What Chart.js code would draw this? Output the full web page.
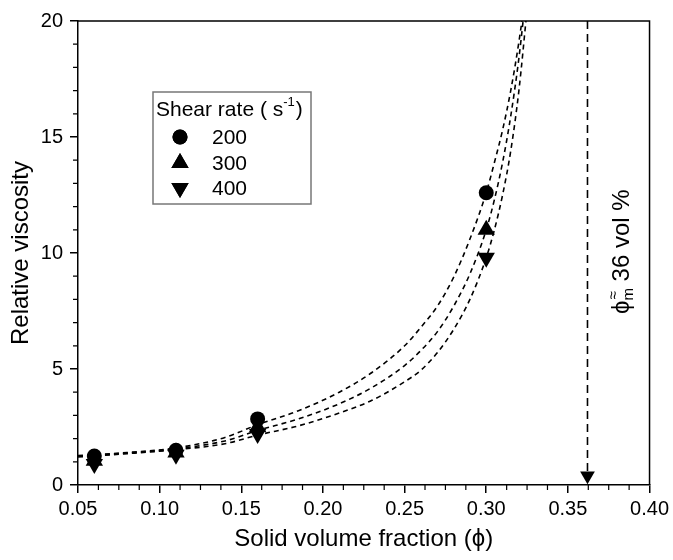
<!DOCTYPE html>
<html>
<head>
<meta charset="utf-8">
<script src="https://cdn.jsdelivr.net/npm/chart.js"></script>
<style>
  html, body { margin: 0; padding: 0; background: #fff; }
</style>
</head>
<body>
<canvas id="viscChart" width="673" height="560"></canvas>
<script>
// measured points
var phi = [0.06, 0.11, 0.16, 0.30];
var eta200 = [1.25, 1.5, 2.85, 12.6];
var eta300 = [1.05, 1.4, 2.5, 11.0];
var eta400 = [0.9, 1.3, 2.2, 9.8];
var shearRates = ['200', '300', '400'];

// fitted curves (dashed)
var fitPhi = [0.05, 0.08, 0.11, 0.14, 0.16, 0.185, 0.21, 0.23, 0.25, 0.26, 0.27, 0.28, 0.29, 0.30, 0.305, 0.31, 0.315, 0.32, 0.325];
var fit200 = [1.27, 1.40, 1.60, 2.05, 2.60, 3.20, 4.00, 4.85, 6.00, 6.80, 7.70, 8.95, 10.6, 12.6, 13.9, 15.3, 17.0, 19.1, 21.6];
var fit300 = [1.24, 1.37, 1.56, 1.90, 2.35, 2.85, 3.50, 4.20, 5.15, 5.80, 6.60, 7.70, 9.10, 11.0, 12.3, 13.9, 15.9, 18.4, 21.6];
var fit400 = [1.21, 1.35, 1.52, 1.78, 2.15, 2.55, 3.10, 3.65, 4.45, 4.95, 5.70, 6.70, 8.00, 9.80, 11.0, 12.5, 14.4, 17.0, 20.5];

// maximum packing fraction arrow
var phiMax = 0.362;
var arrowEta = [20, 0.4];

var xTicks = [0.05, 0.10, 0.15, 0.20, 0.25, 0.30, 0.35, 0.40];
var yTicks = [0, 5, 10, 15, 20];

var FONT = "'Liberation Sans', Arial, sans-serif";
var PHI = '\u03D5';
Chart.defaults.font.family = FONT;
Chart.defaults.color = '#000';

function pts(xs, ys) {
    return xs.map(function (x, i) { return { x: x, y: ys[i] }; });
}

function markerSet(label, ys, style, radius, rotation) {
    return {
        label: label,
        data: pts(phi, ys),
        showLine: false,
        pointStyle: style,
        pointRadius: radius,
        pointRotation: rotation,
        backgroundColor: '#000',
        borderColor: '#000',
        borderWidth: 0,
        order: 0
    };
}

function fitSet(ys) {
    return {
        label: 'fit',
        data: pts(fitPhi, ys),
        showLine: true,
        pointRadius: 0,
        borderColor: '#000',
        borderWidth: 1.6,
        borderDash: [5, 4],
        cubicInterpolationMode: 'monotone',
        fill: false,
        order: 2
    };
}

// minor ticks, frame, legend box and phi_m note
var extras = {
    id: 'extras',
    afterDraw: function (chart) {
        var ctx = chart.ctx;
        var area = chart.chartArea;
        var xs = chart.scales.x, ys = chart.scales.y;
        ctx.save();
        ctx.strokeStyle = '#000';
        ctx.lineWidth = 1.5;
        // frame top/right
        ctx.beginPath();
        ctx.moveTo(area.left, area.top);
        ctx.lineTo(area.right, area.top);
        ctx.lineTo(area.right, area.bottom);
        ctx.stroke();
        // minor ticks
        ctx.lineWidth = 1.2;
        ctx.beginPath();
        for (var i = 0; i <= 28; i++) {
            if (i % 4 === 0) continue;
            var px = xs.getPixelForValue(0.05 + i * 0.0125);
            ctx.moveTo(px, area.bottom);
            ctx.lineTo(px, area.bottom + 5);
        }
        for (var j = 0; j <= 20; j++) {
            if (j % 5 === 0) continue;
            var py = ys.getPixelForValue(j);
            ctx.moveTo(area.left, py);
            ctx.lineTo(area.left - 5, py);
        }
        ctx.stroke();

        // legend
        ctx.fillStyle = '#fff';
        ctx.fillRect(153, 92, 158, 112);
        ctx.strokeStyle = '#777';
        ctx.lineWidth = 1.5;
        ctx.strokeRect(153, 92, 158, 112);
        ctx.fillStyle = '#000';
        ctx.textBaseline = 'middle';
        ctx.textAlign = 'left';
        ctx.font = '21px ' + FONT;
        var t1 = 'Shear rate ( s';
        ctx.fillText(t1, 156, 110);
        var w1 = ctx.measureText(t1).width;
        ctx.font = '13px ' + FONT;
        ctx.fillText('-1', 156 + w1, 102);
        var w2 = ctx.measureText('-1').width;
        ctx.font = '21px ' + FONT;
        ctx.fillText(')', 156 + w1 + w2 + 1, 110);
        var rowsY = [137, 163, 188];
        for (var k = 0; k < 3; k++) {
            var ds = chart.data.datasets[k];
            Chart.helpers.drawPoint(ctx, {
                pointStyle: ds.pointStyle,
                radius: ds.pointRadius,
                rotation: ds.pointRotation,
                borderWidth: 0
            }, 180, rowsY[k]);
            ctx.fillStyle = '#000';
            ctx.fill();
            ctx.font = '21px ' + FONT;
            ctx.fillText(shearRates[k], 212, rowsY[k] + 1);
        }

        // rotated phi_m label
        ctx.translate(622, 314);
        ctx.rotate(-Math.PI / 2);
        ctx.textAlign = 'left';
        ctx.textBaseline = 'middle';
        ctx.font = '24px ' + FONT;
        ctx.fillText(PHI, 0, 0);
        var wp = ctx.measureText(PHI).width;
        ctx.font = '15px ' + FONT;
        ctx.fillText('m', wp, 7);
        ctx.fillText('\u2248', wp + 1, -8);
        var wm = ctx.measureText('m').width;
        ctx.font = '24px ' + FONT;
        ctx.fillText(' 36 vol %', wp + wm, 0);
        ctx.restore();
    }
};

var ctx = document.getElementById('viscChart').getContext('2d');
var viscChart = new Chart(ctx, {
    type: 'scatter',
    data: {
        datasets: [
            markerSet('200', eta200, 'circle', 7.5, 0),
            markerSet('300', eta300, 'triangle', 10, 0),
            markerSet('400', eta400, 'triangle', 10, 180),
            fitSet(fit200),
            fitSet(fit300),
            fitSet(fit400),
            {
                label: 'phi_m',
                data: arrowEta.map(function (v) { return { x: phiMax, y: v }; }),
                showLine: true,
                borderColor: '#000',
                borderWidth: 1.6,
                borderDash: [8, 5],
                pointStyle: 'triangle',
                pointRotation: 180,
                pointRadius: [0, 8.5],
                backgroundColor: '#000',
                pointBorderWidth: 0,
                order: 1
            }
        ]
    },
    options: {
        responsive: false,
        animation: false,
        events: [],
        layout: { padding: { left: 0, right: 21, top: 21, bottom: 0 } },
        plugins: {
            legend: { display: false },
            tooltip: { enabled: false }
        },
        scales: {
            x: {
                type: 'linear',
                min: 0.05,
                max: 0.40,
                afterBuildTicks: function (scale) {
                    scale.ticks = xTicks.map(function (v) { return { value: v }; });
                },
                afterFit: function (scale) { scale.height = 75; },
                ticks: {
                    font: { size: 20 },
                    padding: 4,
                    callback: function (v) { return Number(v).toFixed(2); }
                },
                grid: { drawOnChartArea: false, color: '#000', lineWidth: 1.5, tickLength: 8 },
                border: { color: '#000', width: 1.5 },
                title: {
                    display: true,
                    text: 'Solid volume fraction (' + PHI + ')',
                    font: { size: 24 },
                    padding: { top: 0, bottom: 6 }
                }
            },
            y: {
                type: 'linear',
                min: 0,
                max: 20,
                afterBuildTicks: function (scale) {
                    scale.ticks = yTicks.map(function (v) { return { value: v }; });
                },
                afterFit: function (scale) { scale.width = 78; },
                ticks: {
                    font: { size: 20 },
                    padding: 7
                },
                grid: { drawOnChartArea: false, color: '#000', lineWidth: 1.5, tickLength: 8 },
                border: { color: '#000', width: 1.5 },
                title: {
                    display: true,
                    text: 'Relative viscosity',
                    font: { size: 24 },
                    padding: { top: 7, bottom: 0 }
                }
            }
        }
    },
    plugins: [extras]
});
</script>
</body>
</html>
